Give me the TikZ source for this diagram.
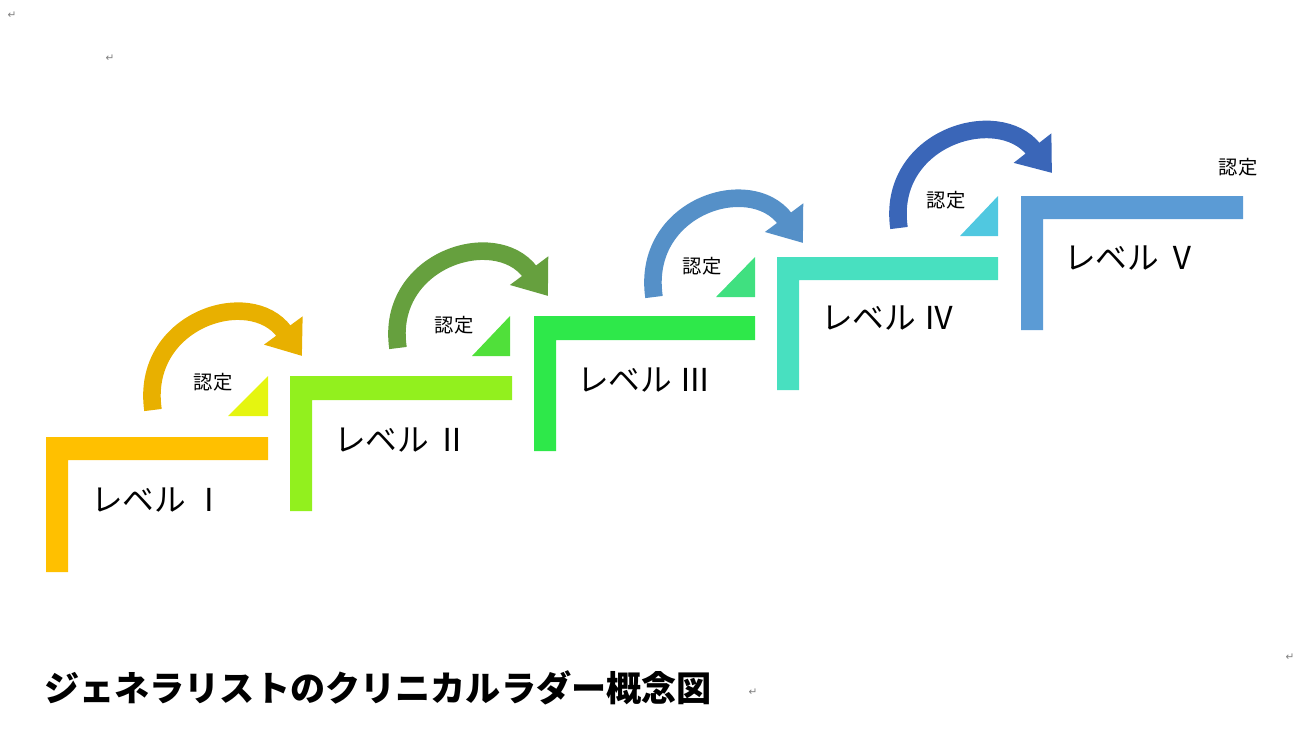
\documentclass[tikz,border=0pt]{standalone}
\usepackage{fontspec}
\setmainfont{Noto Sans CJK JP}
\newfontfamily\symfont{DejaVu Sans}
\usetikzlibrary{arrows.meta}
\definecolor{c1}{HTML}{FFC000}
\definecolor{c2}{HTML}{92F01E}
\definecolor{c3}{HTML}{2EE84A}
\definecolor{c4}{HTML}{48E0C0}
\definecolor{c5}{HTML}{5B9BD5}
\definecolor{t1}{HTML}{E5F510}
\definecolor{t2}{HTML}{50E03A}
\definecolor{t3}{HTML}{40E080}
\definecolor{t4}{HTML}{50C8E0}
\definecolor{a1}{HTML}{E8B000}
\definecolor{a2}{HTML}{66A03E}
\definecolor{a3}{HTML}{5590C8}
\definecolor{a4}{HTML}{3A66B8}
\tikzset{
  lvl/.style={font=\fontsize{18}{18}\selectfont, anchor=west},
  nintei/.style={font=\fontsize{11}{11}\selectfont},
  curl/.style={line width=10pt, -{Triangle[length=18pt,width=26pt]}},
  ret/.style={font=\symfont\fontsize{6}{6}\selectfont, text=gray}
}
\begin{document}
\begin{tikzpicture}[x=0.02cm, y=-0.02cm]
    \useasboundingbox (0,0) rectangle (1297,755);
    % stairs
    \fill[c1] (46,437) rectangle (268,460) (46,437) rectangle (68,572);
    \fill[c2] (290,376) rectangle (512,400) (290,376) rectangle (312,511);
    \fill[c3] (534,316) rectangle (755,340) (534,316) rectangle (556,451);
    \fill[c4] (777,257) rectangle (998,280) (777,257) rectangle (799,390);
    \fill[c5] (1021,196) rectangle (1243,219) (1021,196) rectangle (1043,330);
    % corners
    \fill[t1] (268,376) -- (268,416) -- (228,416) -- cycle;
    \fill[t2] (510,316) -- (510,356) -- (472,356) -- cycle;
    \fill[t3] (755,257) -- (755,297) -- (716,297) -- cycle;
    \fill[t4] (998,196) -- (998,236) -- (960,236) -- cycle;

    \node[lvl] (l1) at (85,500) {レベル Ⅰ};
    \node[lvl] (l2) at (328,440) {レベル Ⅱ};
    \node[lvl] (l3) at (571,380) {レベル Ⅲ};
    \node[lvl] (l4) at (815,318) {レベル Ⅳ};
    \node[lvl] (l5) at (1058,258) {レベル Ⅴ};

    \node[nintei] (n1) at (213,382) {認定};
    \node[nintei] (n2) at (454,325) {認定};
    \node[nintei] (n3) at (702,266) {認定};
    \node[nintei] (n4) at (946,200) {認定};
    \node[nintei] (n5) at (1238,167) {認定};

    \coordinate (s1) at (153,410); \coordinate (e1) at (302,356);
    \coordinate (s2) at (398,348); \coordinate (e2) at (548,296);
    \coordinate (s3) at (654,297); \coordinate (e3) at (803,243);
    \coordinate (s4) at (899,228); \coordinate (e4) at (1052,173);
    \draw[curl, a1] (s1) .. controls (140,320) and (250,285) .. (e1);
    \draw[curl, a2] (s2) .. controls (385,260) and (495,225) .. (e2);
    \draw[curl, a3] (s3) .. controls (641,207) and (750,172) .. (e3);
    \draw[curl, a4] (s4) .. controls (886,138) and (998,104) .. (e4);

    \node[anchor=west, font=\bfseries\fontsize{20}{20}\selectfont] (title) at (38,688) {ジェネラリストのクリニカルラダー概念図};
    \node[ret] (r1) at (12,15) {↵};
    \node[ret] (r2) at (110,58) {↵};
    \node[ret] (r3) at (1290,657) {↵};
    \node[ret] (r4) at (753,692) {↵};
\end{tikzpicture}
\end{document}
